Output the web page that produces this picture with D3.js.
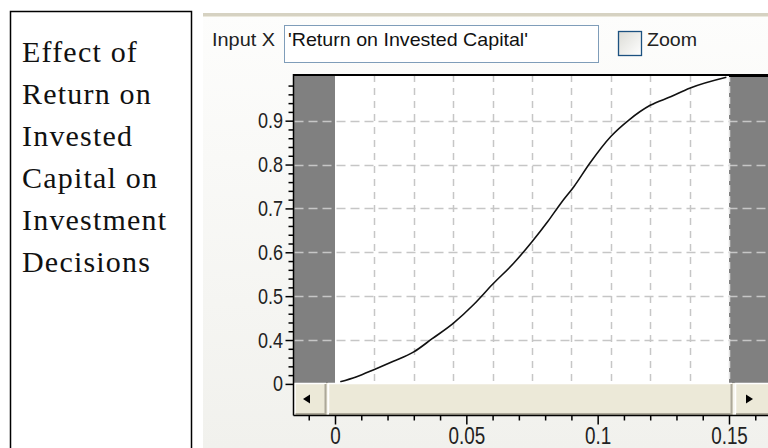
<!DOCTYPE html>
<html>
<head>
<meta charset="utf-8">
<script src="https://cdn.jsdelivr.net/npm/d3@7"></script>
<style>
  html, body { margin: 0; padding: 0; background: #ffffff; }
  svg { display: block; }
</style>
</head>
<body>
<svg id="chart" width="768" height="448"></svg>
<script>
// ---- data ----
const titleLines = ["Effect of", "Return on", "Invested", "Capital on", "Investment", "Decisions"];
const inputLabel = "Input X";
const inputValue = "'Return on Invested Capital'";
const zoomLabel = "Zoom";

const xValues = [0.002, 0.008, 0.015, 0.022, 0.030, 0.037, 0.045, 0.053, 0.060, 0.068, 0.075,
                 0.081, 0.086, 0.091, 0.097, 0.105, 0.112, 0.120, 0.128, 0.135, 0.149];
const yValues = [0.305, 0.316, 0.333, 0.351, 0.373, 0.403, 0.438, 0.482, 0.527, 0.575, 0.624,
                 0.670, 0.712, 0.750, 0.803, 0.864, 0.902, 0.935, 0.955, 0.974, 0.999];

const xMajorTicks = [0, 0.05, 0.1, 0.15];
const xMajorLabels = ["0", "0.05", "0.1", "0.15"];
const xMinorTicks = [-0.01, 0.01, 0.02, 0.03, 0.04, 0.06, 0.07, 0.08, 0.09, 0.11, 0.12, 0.13, 0.14, 0.16];
const xGridTicks = [0.015, 0.03, 0.045, 0.06, 0.075, 0.09, 0.105, 0.12, 0.135];
const yMajorTicks = [0.3, 0.4, 0.5, 0.6, 0.7, 0.8, 0.9];
const yMajorLabels = ["0", "0.4", "0.5", "0.6", "0.7", "0.8", "0.9"];
const yMinorTicks = [0.32, 0.34, 0.36, 0.38, 0.42, 0.44, 0.46, 0.48, 0.52, 0.54, 0.56, 0.58,
                     0.62, 0.64, 0.66, 0.68, 0.72, 0.74, 0.76, 0.78, 0.82, 0.84, 0.86, 0.88,
                     0.92, 0.94, 0.96, 0.98];
const yGridTicks = [0.4, 0.5, 0.6, 0.7, 0.8, 0.9];
const xDataRange = [0, 0.15];

// ---- layout ----
const svg = d3.select("#chart");
const W = 768, H = 448;
const frameLeft = 293.5, frameTop = 75, plotBottom = 383, axisY = 415.5;
const narrow = 0.82;

const x = d3.scaleLinear().domain([0, 0.15]).range([335, 729]);
const y = d3.scaleLinear().domain([0.3, 1.0]).range([383.9, 76.8]);

const defs = svg.append("defs");
const bg = defs.append("linearGradient").attr("id", "panelBg").attr("x1", 0).attr("y1", 0).attr("x2", 0).attr("y2", 1);
bg.append("stop").attr("offset", "0%").attr("stop-color", "#fdfdfc");
bg.append("stop").attr("offset", "100%").attr("stop-color", "#f1f1ed");
const cb = defs.append("linearGradient").attr("id", "cbBg").attr("x1", 0).attr("y1", 0).attr("x2", 1).attr("y2", 1);
cb.append("stop").attr("offset", "0%").attr("stop-color", "#dcdcd6");
cb.append("stop").attr("offset", "100%").attr("stop-color", "#ffffff");

// ---- left text box ----
svg.append("rect").attr("x", 10.5).attr("y", 11.5).attr("width", 181).attr("height", 460)
  .attr("fill", "#ffffff").attr("stroke", "#000").attr("stroke-width", 1.5);
svg.append("g").selectAll("text").data(titleLines).join("text")
  .attr("x", 22).attr("y", (d, i) => 62 + i * 42)
  .attr("font-family", "'Liberation Serif', 'Times New Roman', serif")
  .attr("font-size", 30).attr("letter-spacing", 1.2).attr("fill", "#111")
  .text(d => d);

// ---- right panel ----
svg.append("rect").attr("x", 203).attr("y", 13).attr("width", W - 203).attr("height", H - 13)
  .attr("fill", "url(#panelBg)");
svg.append("rect").attr("x", 203).attr("y", 13).attr("width", W - 203).attr("height", 3).attr("fill", "#d6d2c2");
svg.append("rect").attr("x", 203).attr("y", 16).attr("width", W - 203).attr("height", 1).attr("fill", "#ebe8dc");

// header controls
svg.append("text").attr("x", 212).attr("y", 45.5)
  .attr("font-family", "'Liberation Sans', Arial, sans-serif").attr("font-size", 18.5)
  .attr("textLength", 63).attr("lengthAdjust", "spacingAndGlyphs").attr("fill", "#222")
  .text(inputLabel);
svg.append("rect").attr("x", 284.5).attr("y", 25.5).attr("width", 314).attr("height", 37)
  .attr("fill", "#fff").attr("stroke", "#7f9db9");
svg.append("text").attr("x", 288).attr("y", 45.5)
  .attr("font-family", "'Liberation Sans', Arial, sans-serif").attr("font-size", 18.5)
  .attr("textLength", 240).attr("lengthAdjust", "spacingAndGlyphs").attr("fill", "#111")
  .text(inputValue);
svg.append("rect").attr("x", 618.5).attr("y", 31.5).attr("width", 23).attr("height", 24)
  .attr("fill", "url(#cbBg)").attr("stroke", "#1c5180").attr("stroke-width", 1.3);
svg.append("text").attr("x", 647).attr("y", 45.5)
  .attr("font-family", "'Liberation Sans', Arial, sans-serif").attr("font-size", 18.5)
  .attr("textLength", 50).attr("lengthAdjust", "spacingAndGlyphs").attr("fill", "#222")
  .text(zoomLabel);

// ---- plot area ----
const plot = svg.append("g");
plot.append("rect").attr("x", frameLeft).attr("y", frameTop).attr("width", W - frameLeft).attr("height", plotBottom - frameTop)
  .attr("fill", "#808080");
plot.append("rect").attr("x", x(xDataRange[0])).attr("y", frameTop)
  .attr("width", x(xDataRange[1]) - x(xDataRange[0])).attr("height", plotBottom - frameTop)
  .attr("fill", "#ffffff");

// horizontal grid
plot.append("g").selectAll("line").data(yGridTicks).join("line")
  .attr("x1", frameLeft + 1).attr("x2", W)
  .attr("y1", d => Math.round(y(d)) + 0.5).attr("y2", d => Math.round(y(d)) + 0.5)
  .attr("stroke", "#c6c6c6").attr("stroke-width", 1.5).attr("stroke-dasharray", "9,5");
// vertical grid
plot.append("g").selectAll("line").data(xGridTicks).join("line")
  .attr("x1", d => Math.round(x(d)) + 0.5).attr("x2", d => Math.round(x(d)) + 0.5)
  .attr("y1", frameTop).attr("y2", plotBottom)
  .attr("stroke", "#c6c6c6").attr("stroke-width", 1.5).attr("stroke-dasharray", "7,6");
// right data boundary
plot.append("line")
  .attr("x1", x(xDataRange[1]) + 0.5).attr("x2", x(xDataRange[1]) + 0.5)
  .attr("y1", frameTop).attr("y2", plotBottom)
  .attr("stroke", "#e0e0e0").attr("stroke-width", 1.5).attr("stroke-dasharray", "7,4");

// curve
const pts = xValues.map((v, i) => [v, yValues[i]]);
plot.append("path").datum(pts)
  .attr("fill", "none").attr("stroke", "#111").attr("stroke-width", 1.6)
  .attr("d", d3.line().x(d => x(d[0])).y(d => y(d[1])).curve(d3.curveMonotoneX));

// frame lines
plot.append("line").attr("x1", frameLeft).attr("x2", W).attr("y1", frameTop).attr("y2", frameTop)
  .attr("stroke", "#000").attr("stroke-width", 2);
plot.append("line").attr("x1", x(xDataRange[1])).attr("x2", W).attr("y1", frameTop + 0.5).attr("y2", frameTop + 0.5)
  .attr("stroke", "#000").attr("stroke-width", 3);

// ---- scrollbar ----
const sb = svg.append("g");
function xpButton(x0, x1) {
  sb.append("rect").attr("x", x0).attr("y", plotBottom).attr("width", x1 - x0).attr("height", axisY - plotBottom)
    .attr("fill", "#ece9d8");
  sb.append("path").attr("d", `M${x0 + 0.5},${axisY - 1} V${plotBottom + 0.5} H${x1 - 1}`)
    .attr("fill", "none").attr("stroke", "#ffffff").attr("stroke-width", 1.5);
  sb.append("path").attr("d", `M${x0 + 1},${axisY - 1.5} H${x1 - 1.5} V${plotBottom + 1}`)
    .attr("fill", "none").attr("stroke", "#aca899").attr("stroke-width", 2);
}
sb.append("rect").attr("x", frameLeft).attr("y", plotBottom).attr("width", W - frameLeft).attr("height", axisY - plotBottom)
  .attr("fill", "#f6f5ee");
xpButton(frameLeft + 1, 327);
xpButton(328, 733);
xpButton(735, W + 3);
sb.append("path").attr("d", "M303,399 L310,394.5 L310,403.5 Z").attr("fill", "#000");
sb.append("path").attr("d", "M753,399 L746,394.5 L746,403.5 Z").attr("fill", "#000");

// ---- axes ----
const axisFont = "'Liberation Sans', Arial, sans-serif";

// left frame / y axis line
svg.append("line").attr("x1", frameLeft).attr("x2", frameLeft).attr("y1", frameTop - 1).attr("y2", axisY)
  .attr("stroke", "#000").attr("stroke-width", 1.5);

const yMinorAxis = svg.append("g").attr("transform", `translate(${frameLeft},0)`)
  .call(d3.axisLeft(y).tickValues(yMinorTicks).tickSize(5).tickFormat(""));
const yMajorAxis = svg.append("g").attr("transform", `translate(${frameLeft},0)`)
  .call(d3.axisLeft(y).tickValues(yMajorTicks).tickSize(8).tickPadding(2)
    .tickFormat((d, i) => yMajorLabels[i]));
[yMinorAxis, yMajorAxis].forEach(g => {
  g.select(".domain").remove();
  g.selectAll("line").attr("stroke", "#000").attr("stroke-width", 1.5);
});
yMajorAxis.selectAll("text")
  .attr("font-family", axisFont).attr("font-size", 22).attr("fill", "#222")
  .attr("x", -10.5 / narrow).attr("transform", `scale(${narrow},1)`);

// x axis
svg.append("line").attr("x1", frameLeft).attr("x2", W).attr("y1", axisY).attr("y2", axisY)
  .attr("stroke", "#000").attr("stroke-width", 1.5);
const xMinorAxis = svg.append("g").attr("transform", `translate(0,${axisY})`)
  .call(d3.axisBottom(x).tickValues(xMinorTicks).tickSize(5).tickFormat(""));
const xMajorAxis = svg.append("g").attr("transform", `translate(0,${axisY})`)
  .call(d3.axisBottom(x).tickValues(xMajorTicks).tickSize(9).tickPadding(3)
    .tickFormat((d, i) => xMajorLabels[i]));
[xMinorAxis, xMajorAxis].forEach(g => {
  g.select(".domain").remove();
  g.selectAll("line").attr("stroke", "#000").attr("stroke-width", 1.5);
});
xMajorAxis.selectAll("text")
  .attr("font-family", axisFont).attr("font-size", 23).attr("fill", "#222")
  .attr("transform", `scale(${narrow},1)`);
</script>
</body>
</html>
